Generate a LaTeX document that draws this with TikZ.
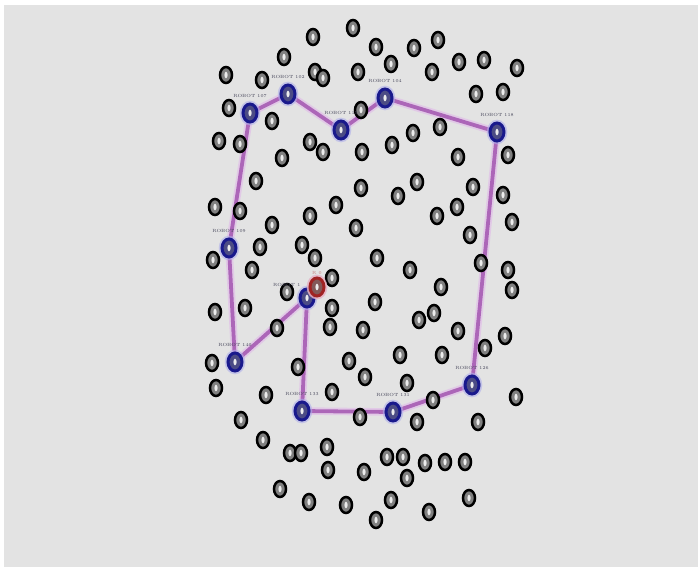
\documentclass[tikz,border=0pt]{standalone}
\usetikzlibrary{shapes.geometric}
\definecolor{bgc}{RGB}{227,227,227}
\definecolor{pathc}{RGB}{172,102,184}
\definecolor{glowc}{RGB}{225,190,232}
\definecolor{bluec}{RGB}{25,25,140}
\definecolor{blueglow}{RGB}{175,175,235}
\definecolor{redc}{RGB}{160,35,35}
\definecolor{lblc}{RGB}{70,70,90}
\pgfdeclarelayer{bg}
\pgfdeclarelayer{edges}
\pgfsetlayers{bg,edges,main}
\tikzset{
  dot/.style={ellipse, draw=black, line width=2.5pt, fill=black!50, minimum width=12pt, minimum height=16pt, inner sep=0pt,
    path picture={\fill[white!85!gray] (path picture bounding box.center) ellipse (1.6pt and 3.3pt);}},
  bdot/.style={dot, draw=bluec, line width=3pt, minimum width=14pt, minimum height=18pt, fill=black!45!blue!40!gray,
    preaction={draw=blueglow, line width=6.5pt, opacity=0.6}},
  rdot/.style={bdot, draw=redc, fill=black!45!red!30!gray, preaction={draw=red!30, line width=6.5pt, opacity=0.6}},
  lbl/.style={font=\fontsize{4.5}{5}\selectfont, text=lblc, inner sep=0pt},
  route/.style={draw=pathc, line width=3.8pt, line join=round, line cap=round,
    preaction={draw=glowc, line width=7.5pt, line join=round, line cap=round, opacity=0.7}}
}
\begin{document}
\begin{tikzpicture}[x=1pt, y=-1pt]
\useasboundingbox (0,0) rectangle (698,567);
\begin{pgfonlayer}{bg}
\fill[white] (0,0) rectangle (698,567);
\fill[bgc] (4,5) rectangle (698,567);
\end{pgfonlayer}
\foreach \x/\y [count=\i] in {353/28, 313/37, 376/47, 414/48, 438/40, 284/57, 391/64, 459/62, 484/60, 517/68,
  226/75, 262/80, 315/72, 323/78, 358/72, 432/72, 476/94, 503/92, 229/108, 272/121,
  361/110, 413/133, 440/127, 219/141, 240/144, 310/142, 323/152, 362/152, 392/145, 282/158,
  458/157, 508/155, 256/181, 361/188, 417/182, 398/196, 473/187, 503/195, 457/207, 215/207,
  240/211, 272/225, 310/216, 336/205, 356/228, 437/216, 512/222, 470/235, 260/247, 302/245,
  315/258, 213/260, 252/270, 377/258, 410/270, 481/263, 508/270, 332/278, 287/292, 441/287,
  512/290, 375/302, 245/308, 215/312, 332/308, 330/327, 277/328, 363/330, 419/320, 434/313,
  458/331, 505/336, 485/348, 349/361, 400/355, 442/355, 212/363, 216/388, 298/367, 365/377,
  407/383, 266/395, 332/392, 433/400, 516/397, 241/420, 360/417, 417/422, 478/422, 263/440,
  290/453, 301/453, 327/447, 387/457, 403/457, 425/463, 445/462, 465/462, 328/470, 364/472,
  407/478, 280/489, 309/502, 346/505, 391/500, 469/498, 376/520, 429/512}
  \node[dot] (n\i) at (\x,\y) {};
\node[bdot, label={[lbl, label distance=5pt]90:ROBOT 107}] (b1) at (250,113) {};
\node[bdot, label={[lbl, label distance=5pt]90:ROBOT 102}] (b2) at (288,94) {};
\node[bdot, label={[lbl, label distance=5pt]90:ROBOT 115}] (b3) at (341,130) {};
\node[bdot, label={[lbl, label distance=5pt]90:ROBOT 104}] (b4) at (385,98) {};
\node[bdot, label={[lbl, label distance=5pt]90:ROBOT 118}] (b5) at (497,132) {};
\node[bdot, label={[lbl, label distance=5pt]90:ROBOT 126}] (b6) at (472,385) {};
\node[bdot, label={[lbl, label distance=5pt]90:ROBOT 131}] (b7) at (393,412) {};
\node[bdot, label={[lbl, label distance=5pt]90:ROBOT 133}] (b8) at (302,411) {};
\node[bdot, label={[lbl, label distance=3pt]120:ROBOT 1}] (b9) at (307,298) {};
\node[bdot, label={[lbl, label distance=5pt]90:ROBOT 140}] (b10) at (235,362) {};
\node[bdot, label={[lbl, label distance=5pt]90:ROBOT 109}] (b11) at (229,248) {};
\node[rdot, label={[lbl, text=redc!60, label distance=2pt]90:R 0}] (r) at (317,287) {};
\begin{pgfonlayer}{edges}
\draw[route] (b1.center) -- (b2.center) -- (b3.center) -- (b4.center) -- (b5.center) -- (b6.center)
  -- (b7.center) -- (b8.center) -- (b9.center) -- (b10.center) -- (b11.center) -- (b1.center);
\end{pgfonlayer}
\end{tikzpicture}
\end{document}
